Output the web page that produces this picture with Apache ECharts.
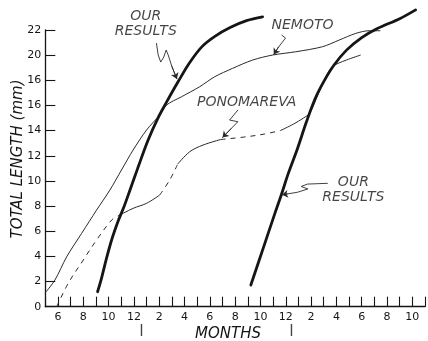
<!DOCTYPE html>
<html>
<head>
<meta charset="utf-8">
<script src="https://cdn.jsdelivr.net/npm/echarts@6/dist/echarts.min.js"></script>
<style>
  html, body { margin: 0; padding: 0; background: #fff; }
  #chart { width: 428px; height: 341px; }
</style>
</head>
<body>
<div id="chart"></div>
<script>
// Growth in total length (mm) against age in months, x = months counted from January of the first year.

// Tick labels
const xTickMonths = [6, 8, 10, 12, 14, 16, 18, 20, 22, 24, 26, 28, 30, 32, 34];
const xTickLabels = ['6', '8', '10', '12', '2', '4', '6', '8', '10', '12', '2', '4', '6', '8', '10'];
const yTickValues = [0, 2, 4, 6, 8, 10, 12, 14, 16, 18, 20, 22];
const yTickLabels = ['0', '2', '4', '6', '8', '10', '12', '14', '16', '16', '20', '22'];

// Year boundaries marked under the month axis
const yearMarks = [12.6, 24.45];

// Our results, first brood  [month, length]
const ourResultsEarly = [
  [9.13, 1.19], [9.45, 2.3], [9.85, 3.9], [10.3, 5.5], [10.75, 6.8], [11.2, 7.9],
  [11.7, 9.3], [12.3, 11.0], [13.1, 13.2], [13.9, 15.0], [14.6, 16.3], [15.5, 17.9],
  [16.4, 19.4], [17.4, 20.7], [18.4, 21.5], [19.6, 22.2], [20.9, 22.75], [22.17, 23.05]
];

// Our results, second brood
const ourResultsLate = [
  [21.24, 1.72], [22.2, 4.6], [23.1, 7.3], [23.65, 8.9], [24.2, 10.6], [24.9, 12.5],
  [25.6, 14.6], [26.3, 16.5], [27.0, 17.9], [27.8, 19.2], [28.8, 20.4], [30.0, 21.4],
  [31.2, 22.1], [33.0, 22.9], [34.26, 23.6]
];

// Nemoto
const nemoto = [
  [4.97, 1.07], [5.76, 2.12], [6.69, 3.97], [7.87, 5.83], [9.05, 7.68], [10.1, 9.27],
  [11.02, 10.87], [11.94, 12.46], [13.0, 14.05], [14.04, 15.24], [14.57, 16.03], [15.76, 16.69],
  [17.2, 17.49], [18.38, 18.28], [19.8, 18.95], [21.38, 19.61], [22.96, 20.01], [24.79, 20.27],
  [26.9, 20.67], [28.22, 21.2], [29.53, 21.73], [30.58, 21.94], [31.47, 21.94]
];

// Ponomareva: observed stretches (solid) and inferred stretches (dashed)
const ponomarevaSolid = [
  [[10.73, 7.21], [11.94, 7.82], [13.0, 8.22], [14.04, 8.88]],
  [[15.46, 11.34], [16.41, 12.32], [17.46, 12.85], [18.85, 13.29]],
  [[23.59, 14.01], [24.61, 14.52], [25.4, 15.0], [25.9, 15.4], [26.6, 17.0], [27.3, 18.5],
   [27.69, 19.1], [28.79, 19.61], [29.92, 20.01]]
];
const ponomarevaDashed = [
  [[5.9, 0], [6.81, 1.86], [8.0, 3.71], [9.05, 5.3], [10.24, 6.89], [10.73, 7.21]],
  [[14.04, 8.88], [14.83, 10.07], [15.46, 11.34]],
  [[18.85, 13.29], [20.88, 13.51], [22.32, 13.73], [23.59, 14.01]]
];

// Curve captions and their wavy pointer lines (data coordinates)
const captions = [
  { text: 'OUR\nRESULTS', at: [12.94, 22.51],
    pointer: [[13.78, 20.96], [13.92, 20.01], [14.12, 19.45], [14.36, 19.85], [14.55, 20.41],
              [14.71, 20.01], [14.99, 19.13], [15.4, 18.1]] },
  { text: 'NEMOTO', at: [25.32, 22.39],
    pointer: [[23.67, 21.6], [23.98, 21.36], [23.67, 20.96], [23.43, 20.65], [23.05, 20.05]] },
  { text: 'PONOMAREVA', at: [20.91, 16.27],
    pointer: [[20.22, 15.64], [19.56, 14.84], [20.22, 14.71], [19.7, 14.18], [19.0, 13.45]] },
  { text: 'OUR\nRESULTS', at: [29.34, 9.28],
    pointer: [[27.32, 9.81], [25.72, 9.75], [25.22, 9.56], [25.74, 9.36], [24.93, 9.1],
              [24.15, 8.97], [23.7, 8.9]] }
];

const INK = '#151515';
const THIN = '#2a2a2a';
const FONT = 'DejaVu Sans';

const xLabelMap = {};
xTickMonths.forEach((m, i) => { xLabelMap[m] = xTickLabels[i]; });
const yLabelMap = {};
yTickValues.forEach((v, i) => { yLabelMap[v] = yTickLabels[i]; });

const chart = echarts.init(document.getElementById('chart'), null, { renderer: 'canvas' });

const series = [];

ponomarevaDashed.forEach(seg => series.push({
  type: 'line', data: seg, smooth: 0.35, symbol: 'none', clip: false, silent: true,
  lineStyle: { color: THIN, width: 1, type: [5, 5] }, z: 2
}));
ponomarevaSolid.forEach(seg => series.push({
  type: 'line', data: seg, smooth: 0.35, symbol: 'none', clip: false, silent: true,
  lineStyle: { color: THIN, width: 1 }, z: 2
}));
series.push({
  type: 'line', data: nemoto, smooth: 0.3, symbol: 'none', clip: false, silent: true,
  lineStyle: { color: THIN, width: 1 }, z: 2
});
[ourResultsEarly, ourResultsLate].forEach(d => series.push({
  type: 'line', data: d, smooth: 0.35, symbol: 'none', clip: false, silent: true,
  lineStyle: { color: INK, width: 2.8, cap: 'round' }, z: 3
}));

// Wavy pointer bodies
series.push({
  type: 'lines', coordinateSystem: 'cartesian2d', polyline: true, silent: true,
  lineStyle: { color: THIN, width: 0.9, opacity: 1 },
  data: captions.map(c => ({ coords: c.pointer })), z: 4
});
// Arrow heads on the last leg of each pointer
series.push({
  type: 'lines', coordinateSystem: 'cartesian2d', silent: true,
  symbol: ['none', 'arrow'], symbolSize: 6,
  lineStyle: { color: THIN, width: 0.9, opacity: 1 },
  data: captions.map(c => ({ coords: c.pointer.slice(-2) })), z: 4
});

series.push({
  type: 'scatter', clip: false, silent: true, symbolSize: 1,
  itemStyle: { color: 'transparent' },
  label: {
    show: true, position: 'inside', color: INK, fontFamily: FONT, fontStyle: 'italic',
    fontSize: 14, lineHeight: 15, align: 'center', verticalAlign: 'middle',
    formatter: p => p.data.name
  },
  data: captions.map(c => ({ value: c.at, name: c.text })), z: 5
});

series.push({
  type: 'scatter', clip: false, silent: true, symbol: 'rect', symbolSize: [1.4, 12],
  itemStyle: { color: INK },
  data: yearMarks.map(m => [m, -1.85]), z: 5
});

chart.setOption({
  animation: false,
  backgroundColor: '#ffffff',
  grid: { left: 45.3, right: 2.3, top: 30, bottom: 34.3, containLabel: false },
  xAxis: {
    type: 'value', min: 5, max: 35, interval: 1,
    splitLine: { show: false },
    axisLine: { show: true, lineStyle: { color: INK, width: 1.3 } },
    axisTick: { show: true, inside: true, length: 10, lineStyle: { color: INK, width: 1.1 } },
    axisLabel: {
      margin: 5, color: INK, fontFamily: FONT, fontSize: 11,
      showMinLabel: true, showMaxLabel: true,
      formatter: v => (xLabelMap[v] !== undefined ? xLabelMap[v] : '')
    }
  },
  yAxis: {
    type: 'value', min: 0, max: 22, interval: 2,
    splitLine: { show: false },
    axisLine: { show: true, lineStyle: { color: INK, width: 1.3 } },
    axisTick: { show: true, inside: true, length: 10, lineStyle: { color: INK, width: 1.1 } },
    axisLabel: {
      margin: 4, color: INK, fontFamily: FONT, fontSize: 11,
      formatter: v => (yLabelMap[v] !== undefined ? yLabelMap[v] : '')
    }
  },
  graphic: [
    {
      type: 'text', x: 228, y: 334,
      style: { text: 'MONTHS', fill: INK, font: 'italic 15px "DejaVu Sans"', align: 'center', verticalAlign: 'middle' }
    },
    {
      type: 'text', x: 18, y: 159, rotation: Math.PI / 2,
      style: { text: 'TOTAL LENGTH (mm)', fill: INK, font: 'italic 15px "DejaVu Sans"', align: 'center', verticalAlign: 'middle' }
    }
  ],
  series: series
});
</script>
</body>
</html>
